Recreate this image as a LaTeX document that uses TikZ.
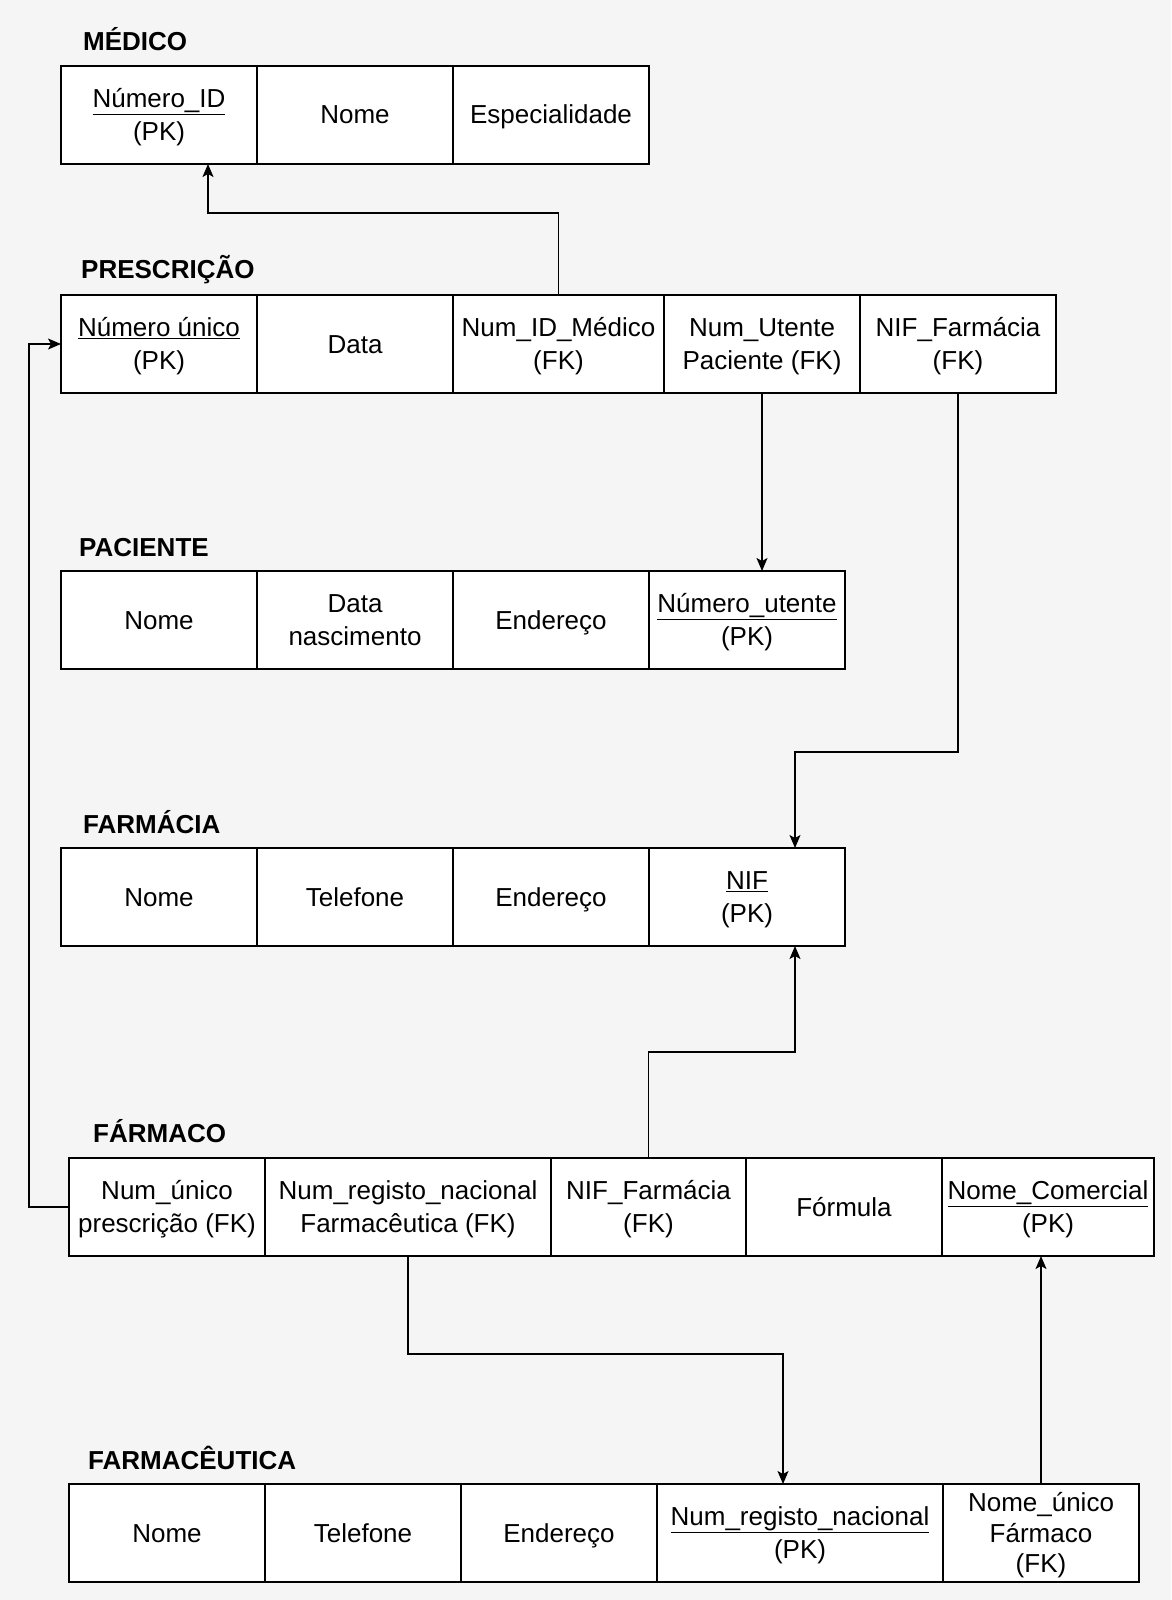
\documentclass[tikz,border=0pt]{standalone}
\usepackage{fontspec}
\setmainfont{Liberation Sans}
\usetikzlibrary{positioning,arrows.meta}
\definecolor{paper}{HTML}{F5F5F5}
\definecolor{ink}{HTML}{000000}
% Zeilenstütze: Höhe und Tiefe einer Textzeile wie im Original
\newcommand{\zs}{\rule[-7.25pt]{0pt}{32.5pt}}

\begin{document}
\begin{tikzpicture}[
    x=1pt, y=-1pt,
    cell/.style={draw=ink, fill=white, line width=1.4pt, minimum width=196pt, minimum height=98pt,
                 inner sep=2pt, outer sep=0pt, align=center, font=\fontsize{26}{32.5}\selectfont},
    wide/.style={cell, minimum width=#1},
    title/.style={anchor=west, inner sep=0pt, text height=23.5pt, text depth=5.5pt,
                  font=\fontsize{26}{32}\selectfont\bfseries},
    fk/.style={draw=ink, line width=1.3pt, -{Stealth[length=13pt, width=11pt, inset=3pt]}},
  ]

  % Hintergrund, legt zugleich die Bildgröße fest
  \fill[paper] (0,0) rectangle (1171,1600);

  % MÉDICO
  \node[title] (tmed) at (83,42) {MÉDICO};
  \node[cell, anchor=north west] (med1) at (61,66) {\zs\underline{Número\_ID}\\\zs(PK)};
  \node[cell, right=0pt of med1] (med2) {\zs Nome};
  \node[cell, right=0pt of med2] (med3) {\zs Especialidade};

  % PRESCRIÇÃO
  \node[title] (tpr) at (81,269) {PRESCRIÇÃO};
  \node[cell, anchor=north west] (pr1) at (61,295) {\zs\underline{Número único}\\\zs(PK)};
  \node[cell, right=0pt of pr1] (pr2) {\zs Data};
  \node[wide=211pt, right=0pt of pr2] (pr3) {\zs Num\_ID\_Médico\\\zs(FK)};
  \node[cell, right=0pt of pr3] (pr4) {\zs Num\_Utente\\\zs Paciente (FK)};
  \node[cell, right=0pt of pr4] (pr5) {\zs NIF\_Farmácia\\\zs(FK)};

  % PACIENTE
  \node[title] (tpac) at (79,547) {PACIENTE};
  \node[cell, anchor=north west] (pac1) at (61,571) {\zs Nome};
  \node[cell, right=0pt of pac1] (pac2) {\zs Data\\\zs nascimento};
  \node[cell, right=0pt of pac2] (pac3) {\zs Endereço};
  \node[cell, right=0pt of pac3] (pac4) {\zs\underline{Número\_utente}\\\zs(PK)};

  % FARMÁCIA
  \node[title] (tfar) at (83,824) {FARMÁCIA};
  \node[cell, anchor=north west] (far1) at (61,848) {\zs Nome};
  \node[cell, right=0pt of far1] (far2) {\zs Telefone};
  \node[cell, right=0pt of far2] (far3) {\zs Endereço};
  \node[cell, right=0pt of far3] (far4) {\zs\underline{NIF}\\\zs(PK)};

  % FÁRMACO
  \node[title] (tfa) at (93,1133) {FÁRMACO};
  \node[cell, anchor=north west] (fa1) at (69,1158) {\zs Num\_único\\\zs prescrição (FK)};
  \node[wide=286pt, right=0pt of fa1] (fa2) {\zs Num\_registo\_nacional\\\zs Farmacêutica (FK)};
  \node[wide=195pt, right=0pt of fa2] (fa3) {\zs NIF\_Farmácia\\\zs(FK)};
  \node[cell, right=0pt of fa3] (fa4) {\zs Fórmula};
  \node[wide=212pt, right=0pt of fa4] (fa5) {\zs\underline{Nome\_Comercial}\\\zs(PK)};

  % FARMACÊUTICA
  \node[title] (tfc) at (88,1460) {FARMACÊUTICA};
  \node[cell, anchor=north west] (fc1) at (69,1484) {\zs Nome};
  \node[cell, right=0pt of fc1] (fc2) {\zs Telefone};
  \node[cell, right=0pt of fc2] (fc3) {\zs Endereço};
  \node[wide=286pt, right=0pt of fc3] (fc4) {\zs\underline{Num\_registo\_nacional}\\\zs(PK)};
  \node[cell, inner ysep=0pt, font=\fontsize{26}{30.6}\selectfont, right=0pt of fc4] (fc5)
    {\zs Nome\_único\\Fármaco\\\zs(FK)};

  % Fremdschlüssel
  \draw[fk] (pr3.north) |- (208,213) -- (208,0 |- med1.south);
  \draw[fk] (pr4.south) -- (pr4.south |- pac4.north);
  \draw[fk] (pr5.south) |- (795,752) -- (795,0 |- far4.north);
  \draw[fk] (fa3.north) |- (795,1052) -- (795,0 |- far4.south);
  \draw[fk] (fa1.west) -- (29,0 |- fa1.west) |- (pr1.west);
  \draw[fk] (fa2.south) |- (783,1354) -- (783,0 |- fc4.north);
  \draw[fk] (fc5.north) -- (fc5.north |- fa5.south);

\end{tikzpicture}
\end{document}
